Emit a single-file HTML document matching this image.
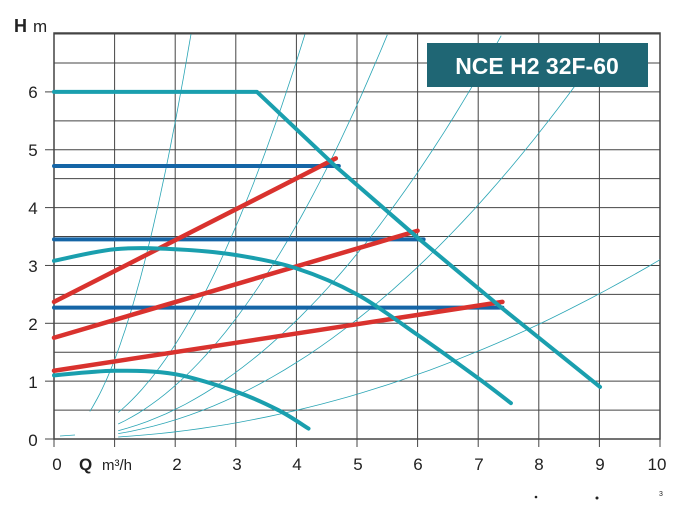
<!DOCTYPE html>
<html><head><meta charset="utf-8"><style>
html,body{margin:0;padding:0;background:#fff;}
svg{display:block;font-family:"Liberation Sans",sans-serif;}
</style></head><body>
<svg id="s" width="691" height="514" viewBox="0 0 691 514" xmlns="http://www.w3.org/2000/svg">
<rect width="691" height="514" fill="#fff"/>
<g id="grid" stroke="#444" stroke-width="1" fill="none"></g>
<g id="thin" stroke="#2aa5b5" stroke-width="0.8" fill="none"></g>
<g id="thick" fill="none" stroke-linecap="round" stroke-linejoin="round"></g>
<rect x="427" y="43" width="221" height="44" fill="#1f6674"/>
<text x="537" y="74" font-size="23" font-weight="bold" fill="#fff" text-anchor="middle">NCE H2 32F-60</text>
<text x="14" y="32" font-size="18" font-weight="bold" fill="#222">H</text>
<text x="33" y="32" font-size="17" fill="#222">m</text>
<g font-size="17" fill="#222" text-anchor="middle">
<text x="33" y="446">0</text><text x="33" y="388">1</text><text x="33" y="330">2</text>
<text x="33" y="272">3</text><text x="33" y="214">4</text><text x="33" y="156">5</text><text x="33" y="98">6</text>
<text x="57" y="470">0</text><text x="177" y="470">2</text><text x="237" y="470">3</text>
<text x="297" y="470">4</text><text x="358" y="470">5</text><text x="418" y="470">6</text>
<text x="479" y="470">7</text><text x="539" y="470">8</text><text x="600" y="470">9</text><text x="657" y="470">10</text>
</g>
<text x="79" y="470" font-size="17" font-weight="bold" fill="#222">Q</text>
<text x="102" y="470" font-size="15" fill="#222">m³/h</text>
<circle cx="536" cy="497" r="1.3" fill="#222"/><circle cx="597" cy="498" r="1.5" fill="#222"/>
<text x="659" y="496" font-size="7" fill="#222">3</text>
</svg>
<script>
var X=function(q){return 54+q*60.6},Y=function(h){return 439-h*57.85};
var ns="http://www.w3.org/2000/svg";
function el(g,t,a){var e=document.createElementNS(ns,t);for(var k in a)e.setAttribute(k,a[k]);document.getElementById(g).appendChild(e);return e;}
for(var i=0;i<=10;i++)el("grid","line",{x1:X(i),y1:33,x2:X(i),y2:439});
for(var j=0;j<=14;j++)el("grid","line",{x1:54,y1:Y(j/2),x2:660,y2:Y(j/2)});
for(var j=0;j<=6;j++)el("grid","line",{x1:45,y1:Y(j),x2:54,y2:Y(j)});
for(var i=0;i<=10;i++)el("grid","line",{x1:X(i),y1:439,x2:X(i),y2:447});
el("grid","rect",{x:54,y:33,width:606,height:406,"stroke-width":1.5});
var ks=[[1.37,0.59,2.26],[0.408,1.06,4.14],[0.231,1.06,5.5],[0.128,1.06,7.38],[0.0826,1.06,8.9],[0.031,1.06,10]];
ks.forEach(function(c){var d="";for(var n=0;n<=40;n++){var q=c[1]+(c[2]-c[1])*n/40;d+=(n?"L":"M")+X(q).toFixed(1)+","+Y(c[0]*q*q).toFixed(1);}el("thin","path",{d:d});});
el("thin","line",{x1:60,y1:436,x2:75,y2:435});
function cr(p){var d="M"+X(p[0][0])+","+Y(p[0][1]);for(var i=0;i<p.length-1;i++){var a=p[i-1]||p[i],b=p[i],c=p[i+1],e=p[i+2]||c;
var c1=[b[0]+(c[0]-a[0])/6,b[1]+(c[1]-a[1])/6],c2=[c[0]-(e[0]-b[0])/6,c[1]-(e[1]-b[1])/6];
d+="C"+X(c1[0])+","+Y(c1[1])+" "+X(c2[0])+","+Y(c2[1])+" "+X(c[0])+","+Y(c[1]);}return d;}
function pl(p){return "M"+p.map(function(q){return X(q[0])+","+Y(q[1])}).join("L");}
var T="#1a9fae",B="#1565a6",R="#d9322e";
[[4.72,4.7],[3.45,6.1],[2.27,7.4]].forEach(function(b){el("thick","path",{d:pl([[0,b[0]],[b[1],b[0]]]),stroke:B,"stroke-width":4});});
[[[0,2.37],[4.65,4.85]],[[0,1.75],[6,3.6]],[[0,1.18],[7.4,2.37]]].forEach(function(r){el("thick","path",{d:pl(r),stroke:R,"stroke-width":4.5});});
el("thick","path",{d:pl([[0,6],[3.35,6],[4.64,4.72],[6.0,3.48],[7.36,2.29],[9.01,0.9]]),stroke:T,"stroke-width":4});
el("thick","path",{d:cr([[0,3.08],[1,3.28],[2,3.28],[3,3.18],[4,2.95],[5,2.5],[6,1.8],[7,1.05],[7.54,0.62]]),stroke:T,"stroke-width":4});
el("thick","path",{d:cr([[0,1.1],[1,1.18],[2,1.12],[3,0.82],[3.7,0.5],[4.2,0.18]]),stroke:T,"stroke-width":4});
</script>
</body></html>
